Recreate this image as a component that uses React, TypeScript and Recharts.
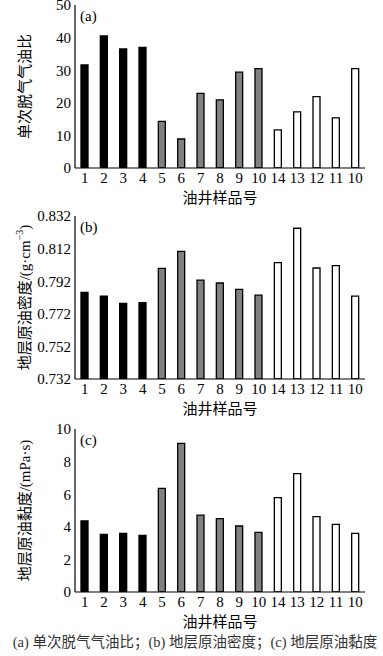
import { BarChart, Bar, XAxis, YAxis, Cell } from 'recharts';

// 油井样品号 (x categories), grouped black / gray / white
const wellLabels = ['1', '2', '3', '4', '5', '6', '7', '8', '9', '10', '14', '13', '12', '11', '10'];
const wellGroups = ['a', 'a', 'a', 'a', 'b', 'b', 'b', 'b', 'b', 'b', 'c', 'c', 'c', 'c', 'c'];

// (a) 单次脱气气油比
const gasOilRatio = [31.6, 40.5, 36.5, 37.0, 14.3, 8.9, 22.9, 20.9, 29.4, 30.5, 11.7, 17.2, 21.9, 15.4, 30.5];
const gasOilTicks = [0, 10, 20, 30, 40, 50];

// (b) 地层原油密度
const density = [0.7852, 0.7829, 0.7784, 0.7788, 0.7999, 0.8103, 0.7927, 0.7909, 0.787, 0.7834, 0.8034, 0.8245, 0.8001, 0.8015, 0.7829];
const densityTicks = [0.732, 0.752, 0.772, 0.792, 0.812, 0.832];

// (c) 地层原油黏度
const viscosity = [4.36, 3.54, 3.6, 3.48, 6.36, 9.12, 4.72, 4.5, 4.05, 3.66, 5.79, 7.26, 4.62, 4.15, 3.6];
const viscosityTicks = [0, 2, 4, 6, 8, 10];

const groupFill: Record<string, string> = { a: '#000000', b: '#808080', c: '#ffffff' };

const SERIF = '"Liberation Serif", "Times New Roman", serif';
const MIXED = '"Liberation Serif", "Noto Sans CJK SC", serif';

function XTitle(props: any) {
  const { viewBox } = props;
  return (
    <text
      x={viewBox.x + viewBox.width / 2}
      y={viewBox.y + 35}
      textAnchor="middle"
      fontFamily={MIXED}
      fontSize={15}
      fill="#000"
    >
      油井样品号
    </text>
  );
}

function YTitle(props: any) {
  const { viewBox, kind } = props;
  const cx = 25;
  const cy = viewBox.y + viewBox.height / 2;
  return (
    <text
      x={cx}
      y={cy}
      transform={`rotate(-90, ${cx}, ${cy})`}
      textAnchor="middle"
      dominantBaseline="central"
      fontFamily={MIXED}
      fontSize={15}
      fill="#000"
    >
      {kind === 'a' && '单次脱气气油比'}
      {kind === 'b' && (
        <>
          地层原油密度/(g·cm
          <tspan dy={-6} fontSize={10}>−3</tspan>
          <tspan dy={6}>)</tspan>
        </>
      )}
      {kind === 'c' && '地层原油黏度/(mPa·s)'}
    </text>
  );
}

interface PanelProps {
  tag: string;
  kind: string;
  values: number[];
  ticks: number[];
  digits: number;
  top: number;
  bottom: number;
}

function Panel({ tag, kind, values, ticks, digits, top, bottom }: PanelProps) {
  const data = wellLabels.map((name, i) => ({ name, value: values[i], group: wellGroups[i] }));
  return (
    <div style={{ position: 'relative', width: 383, height: 210 }}>
      <BarChart
        width={383}
        height={210}
        data={data}
        margin={{ top, right: 18, bottom: 0, left: 0 }}
        barSize={7}
      >
        <XAxis
          dataKey="name"
          height={bottom}
          axisLine={{ stroke: '#000', strokeWidth: 1.2 }}
          tickLine={false}
          tickSize={0}
          tickMargin={4}
          interval={0}
          tick={{ fill: '#000', fontSize: 15, fontFamily: SERIF }}
          label={<XTitle />}
        />
        <XAxis
          xAxisId="top"
          dataKey="name"
          orientation="top"
          height={0}
          axisLine={{ stroke: '#000', strokeWidth: 1.2 }}
          tick={false}
          tickLine={false}
        />
        <YAxis
          width={75}
          domain={[ticks[0], ticks[ticks.length - 1]]}
          ticks={ticks}
          interval={0}
          allowDataOverflow
          axisLine={{ stroke: '#000', strokeWidth: 1.2 }}
          tickLine={false}
          tickSize={0}
          tickMargin={4}
          tickFormatter={(v: number) => v.toFixed(digits)}
          tick={{ fill: '#000', fontSize: 15, fontFamily: SERIF }}
          label={<YTitle kind={kind} />}
        />
        <YAxis
          yAxisId="right"
          orientation="right"
          width={0}
          domain={[0, 1]}
          axisLine={{ stroke: '#000', strokeWidth: 1.2 }}
          tick={false}
          tickLine={false}
        />
        <Bar dataKey="value" stroke="#000" strokeWidth={1.3} isAnimationActive={false}>
          {data.map((d, i) => (
            <Cell key={i} fill={groupFill[d.group]} />
          ))}
        </Bar>
      </BarChart>
      <div
        style={{
          position: 'absolute',
          left: 80,
          top: top + 2,
          fontFamily: SERIF,
          fontSize: 15,
          color: '#000',
          lineHeight: '18px',
        }}
      >
        {tag}
      </div>
    </div>
  );
}

export default function App() {
  return (
    <div
      style={{
        position: 'fixed',
        left: 0,
        top: 0,
        width: 383,
        height: 656,
        background: '#fff',
        overflow: 'hidden',
      }}
    >
      <Panel tag="(a)" kind="a" values={gasOilRatio} ticks={gasOilTicks} digits={0} top={5} bottom={42} />
      <Panel tag="(b)" kind="b" values={density} ticks={densityTicks} digits={3} top={6} bottom={41} />
      <Panel tag="(c)" kind="c" values={viscosity} ticks={viscosityTicks} digits={0} top={9} bottom={38} />
      <div
        style={{
          position: 'absolute',
          left: 0,
          top: 632,
          width: 390,
          textAlign: 'center',
          fontFamily: MIXED,
          fontSize: 14.5,
          lineHeight: '20px',
          color: '#333',
          whiteSpace: 'pre',
        }}
      >
        (a) 单次脱气气油比；(b) 地层原油密度；(c) 地层原油黏度
      </div>
    </div>
  );
}
